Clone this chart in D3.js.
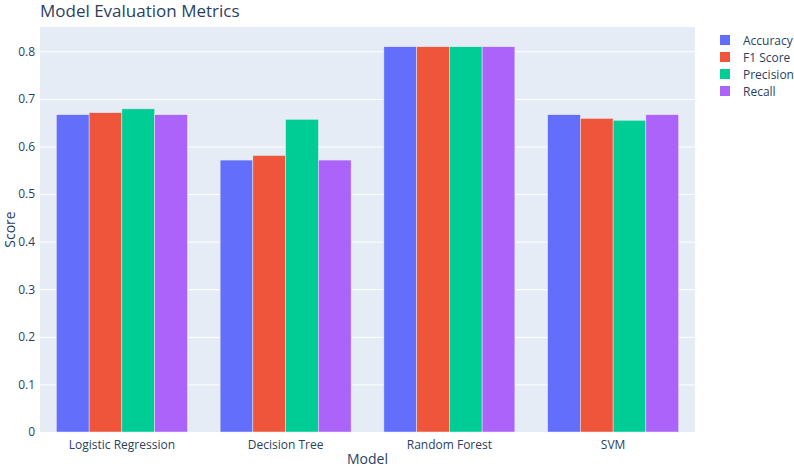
<!DOCTYPE html>
<html><head><meta charset="utf-8">
<script src="https://cdn.jsdelivr.net/npm/d3@7"></script>
<style>body{margin:0;background:#fff;} text{font-family:"Open Sans",verdana,arial,sans-serif;}</style>
</head><body><svg id="c" width="794" height="468"></svg>
<script>
const models = ["Logistic Regression", "Decision Tree", "Random Forest", "SVM"];
const metrics = ["Accuracy", "F1 Score", "Precision", "Recall"];
const accuracy = [0.6667, 0.5714, 0.8095, 0.6667];
const f1Score = [0.671, 0.581, 0.8095, 0.659];
const precision = [0.679, 0.657, 0.8095, 0.655];
const recall = [0.6667, 0.5714, 0.8095, 0.6667];
const yTicks = [0, 0.1, 0.2, 0.3, 0.4, 0.5, 0.6, 0.7, 0.8];
const colors = ["#636efa", "#EF553B", "#00cc96", "#ab63fa"];

const seriesVals = [accuracy, f1Score, precision, recall];
const svg = d3.select("#c");
const m = {l: 40, r: 99, t: 27, b: 36};
const W = 794, H = 468;
const x = d3.scaleBand().domain(models).range([m.l, W - m.r]).paddingInner(0.2).paddingOuter(0.1);
const xs = d3.scaleBand().domain(metrics).range([0, x.bandwidth()]);
const y = d3.scaleLinear().domain([0, 0.851]).range([H - m.b, m.t]);
const txt = "#2a3f5f";

svg.append("rect").attr("x", m.l).attr("y", m.t).attr("width", W - m.r - m.l).attr("height", H - m.b - m.t).attr("fill", "#E5ECF6");

const ya = svg.append("g").attr("transform", `translate(${m.l},0)`)
  .call(d3.axisLeft(y).tickValues(yTicks).tickFormat(d => d === 0 ? "0" : d3.format(".1f")(d)).tickSize(-(W - m.r - m.l)).tickPadding(5));
ya.select(".domain").remove();
ya.selectAll("line").attr("stroke", "#fff").attr("stroke-width", 1);
ya.selectAll("text").attr("fill", txt).attr("font-size", 12);

const data = [];
models.forEach((mo, i) => metrics.forEach((me, j) => data.push({mo, me, v: seriesVals[j][i], c: colors[j]})));
svg.append("g").selectAll("rect").data(data).join("rect")
  .attr("x", d => x(d.mo) + xs(d.me))
  .attr("width", xs.bandwidth())
  .attr("y", d => y(d.v))
  .attr("height", d => y(0) - y(d.v))
  .attr("fill", d => d.c)
  .attr("stroke", "#E5ECF6").attr("stroke-width", 0.5);

const xa = svg.append("g").attr("transform", `translate(0,${H - m.b})`)
  .call(d3.axisBottom(x).tickSize(0).tickPadding(8));
xa.select(".domain").remove();
xa.selectAll("text").attr("fill", txt).attr("font-size", 12);

svg.append("text").attr("x", 40).attr("y", 17).attr("fill", txt).attr("font-size", 17).text("Model Evaluation Metrics");
svg.append("text").attr("x", (m.l + W - m.r) / 2).attr("y", 464).attr("text-anchor", "middle").attr("fill", txt).attr("font-size", 14).text("Model");
svg.append("text").attr("transform", `translate(15,${(m.t + H - m.b) / 2}) rotate(-90)`).attr("text-anchor", "middle").attr("fill", txt).attr("font-size", 14).text("Score");

const lg = svg.append("g").selectAll("g").data(metrics).join("g")
  .attr("transform", (d, i) => `translate(720,${40 + i * 17})`);
lg.append("rect").attr("x", 0).attr("y", -5).attr("width", 10).attr("height", 10).attr("fill", (d, i) => colors[i]);
lg.append("text").attr("x", 23).attr("y", 4.5).attr("fill", txt).attr("font-size", 12).text(d => d);
</script></body></html>
